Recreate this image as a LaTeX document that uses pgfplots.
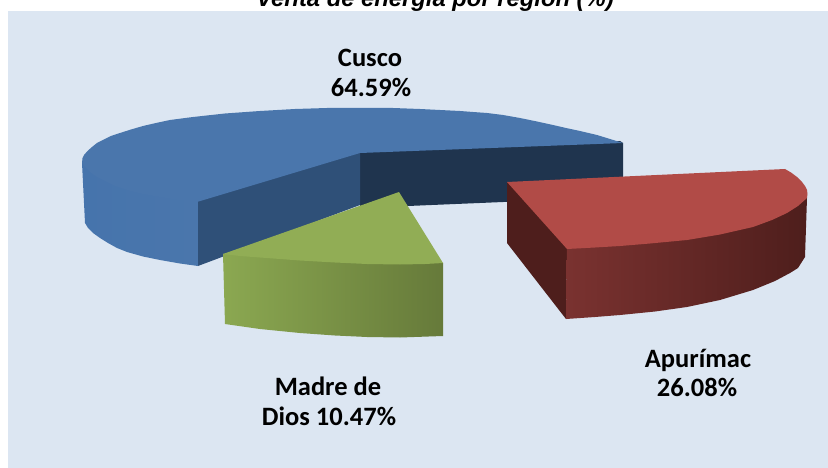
\documentclass[border=0pt]{standalone}
\usepackage{fontspec}
\setmainfont{Carlito}
\newfontfamily\arialf{Liberation Sans}
\usepackage{pgfplots}
\pgfplotsset{compat=1.18}
\definecolor{fondo}{HTML}{DCE6F2}
\definecolor{azul}{HTML}{4A76AC}
\definecolor{azulL}{HTML}{4674AC}
\definecolor{azulM}{HTML}{2F5078}
\definecolor{azulO}{HTML}{1F344E}
\definecolor{rojo}{HTML}{B14B47}
\definecolor{rojoO}{HTML}{4E1E1C}
\definecolor{rojoA}{HTML}{7A3230}
\definecolor{rojoB}{HTML}{592321}
\definecolor{verde}{HTML}{91AD55}
\definecolor{verdeA}{HTML}{8BA851}
\definecolor{verdeB}{HTML}{667A3A}
\tikzset{etiqueta/.style={font=\bfseries\fontsize{26.5}{30}\selectfont,anchor=base}}
\begin{document}
\begin{tikzpicture}
\path[use as bounding box] (0,0) rectangle (828pt,468pt);
\clip (0,0) rectangle (828pt,468pt);
\begin{axis}[
  at={(0,0)},anchor=south west,
  scale only axis,width=828pt,height=468pt,
  xmin=0,xmax=828,ymin=0,ymax=468,y dir=reverse,
  hide axis,clip=false,
]
% fondo
\addplot[draw=none,fill=fondo] coordinates {(8,11) (828,11) (828,468) (8,468)} --cycle;
% Cusco: pared interior derecha, pared izquierda, borde exterior, cara superior
\addplot[draw=none,fill=azulO] coordinates {(360,150) (620,141) (623,143) (623,197) (360,208)} --cycle;
\addplot[draw=none,fill=azulM] coordinates {(200,198) (360,150) (360,205) (198,266) (197,202)} --cycle;
\addplot[draw=none,left color=azulL,right color=azul] coordinates {(83,163) (127,180) (198,190) (198,266) (180,263.5) (160,260) (143,256.5) (127,252) (117,248) (108,243) (100,238) (93,233) (88,228) (85,223) (82,163)} --cycle;
\addplot[draw=none,fill=azul] coordinates {(197,202) (360,153) (623,143) (610,139) (597,135) (580,131) (566,128) (553,125) (537,121.5) (520,118) (503,115) (487,113) (473,112) (460,111) (440,110) (420,109) (393,108) (360,108) (327,108) (295,109) (260,111) (225,113.5) (193,117) (170,120) (156,123) (143,126) (131,129.5) (120,133) (111,136) (103,140) (97,143) (92,147) (87.5,151) (84,155) (82.5,158) (82,163) (85,167) (90,172) (97,177) (105,181) (115,186) (127,190) (143,194) (160,197) (178,200)} --cycle;
% Apurimac
\addplot[draw=none,fill=rojoO] coordinates {(510,185) (570,249) (567,249) (566,319) (507,243) (507,182)} --cycle;
\addplot[draw=none,left color=rojoA,middle color=rojoB,right color=rojoO] coordinates {(567,240) (620,236) (687,230) (753,217) (800,190) (807,198) (805,257) (798,268) (790,273) (775,281) (753,290) (720,300) (687,307) (655,311.5) (620,315) (595,317) (566,319)} --cycle;
\addplot[draw=none,fill=rojo] coordinates {(507,182) (785,169) (791,172.5) (797,177) (802,182) (805,186) (807,190) (807.5,194) (807,198) (798,206) (787,213) (772,220) (753,227) (720,234.5) (687,240) (650,243.5) (620,246) (595,247.5) (567,249)} --cycle;
% Madre de Dios
\addplot[draw=none,left color=verdeA,right color=verdeB] coordinates {(223,254) (260,250) (400,255) (443,263) (443,336) (400,337.5) (367,337) (335,335.5) (300,333) (260,329) (225,324)} --cycle;
\addplot[draw=none,fill=verde] coordinates {(399,192) (443,263) (425,264) (400,264.5) (367,264) (335,262.5) (300,260.5) (280,259) (260,257.5) (240,256) (223,254)} --cycle;
% textos
\node[font=\arialf\bfseries\itshape\fontsize{23.8}{28}\selectfont,anchor=base] at (axis cs:435,6.5) {Venta de energía por región (\%)};
\node[etiqueta] at (axis cs:370,67) {Cusco};
\node[etiqueta] at (axis cs:371,97) {64.59\%};
\node[etiqueta] at (axis cs:698,367) {Apurímac};
\node[etiqueta] at (axis cs:697,396) {26.08\%};
\node[etiqueta] at (axis cs:328,395) {Madre de};
\node[etiqueta] at (axis cs:329,425) {Dios 10.47\%};
\end{axis}
\end{tikzpicture}
\end{document}
